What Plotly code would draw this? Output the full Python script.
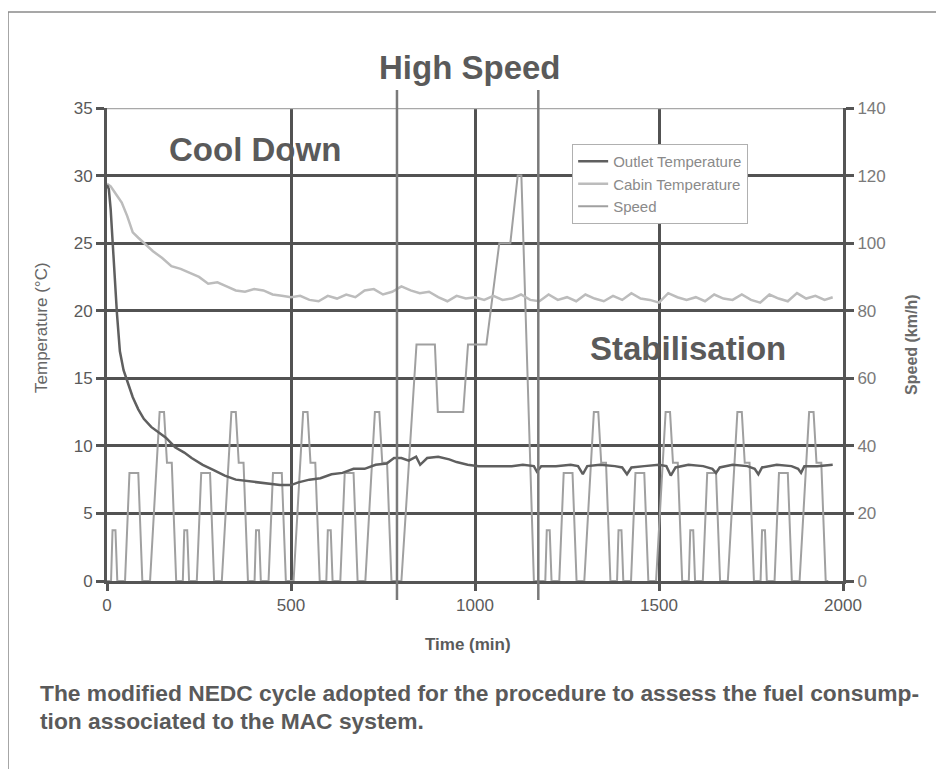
import plotly.graph_objects as go

# time axis is seconds really, the original figure labels it "min"
speed_t = [0, 11, 15, 23, 28, 49, 61, 85, 96, 117, 143, 155, 163, 176, 188,
           195, 206, 210, 218, 223, 244, 256, 280, 291, 312, 338, 350, 358, 371, 383,
           390, 401, 405, 413, 418, 439, 451, 475, 486, 507, 533, 545, 553, 566, 578,
           585, 596, 600, 608, 613, 634, 646, 670, 681, 702, 728, 740, 748, 761, 773,
           780, 800, 841, 891, 899, 968, 981, 1031, 1066, 1096, 1116, 1126, 1160,
           1180, 1191, 1195, 1203, 1208, 1229, 1241, 1265, 1276, 1297, 1323, 1335, 1343, 1356, 1368,
           1375, 1386, 1390, 1398, 1403, 1424, 1436, 1460, 1471, 1492, 1518, 1530, 1538, 1551, 1563,
           1570, 1581, 1585, 1593, 1598, 1619, 1631, 1655, 1666, 1687, 1713, 1725, 1733, 1746, 1758,
           1765, 1776, 1780, 1788, 1793, 1814, 1826, 1850, 1861, 1882, 1908, 1920, 1928, 1941, 1953,
           1960]
speed_v = [0, 0, 15, 15, 0, 0, 32, 32, 0, 0, 50, 50, 35, 35, 0,
           0, 0, 15, 15, 0, 0, 32, 32, 0, 0, 50, 50, 35, 35, 0,
           0, 0, 15, 15, 0, 0, 32, 32, 0, 0, 50, 50, 35, 35, 0,
           0, 0, 15, 15, 0, 0, 32, 32, 0, 0, 50, 50, 35, 35, 0,
           0, 0, 70, 70, 50, 50, 70, 70, 100, 100, 120, 120, 0,
           0, 0, 15, 15, 0, 0, 32, 32, 0, 0, 50, 50, 35, 35, 0,
           0, 0, 15, 15, 0, 0, 32, 32, 0, 0, 50, 50, 35, 35, 0,
           0, 0, 15, 15, 0, 0, 32, 32, 0, 0, 50, 50, 35, 35, 0,
           0, 0, 15, 15, 0, 0, 32, 32, 0, 0, 50, 50, 35, 35, 0,
           0]

cabin_t = [0, 10, 25, 40, 55, 70, 85, 100, 125, 150, 175, 200, 225, 250, 275, 300,
           325, 350, 375, 400, 425, 450, 475, 500, 525, 550, 575, 600, 625, 650, 675,
           700, 725, 750, 775, 800, 825, 850, 875, 900, 925, 950, 975, 1000, 1025,
           1050, 1075, 1100, 1125, 1150, 1175, 1200, 1225, 1250, 1275, 1300, 1325,
           1350, 1375, 1400, 1425, 1450, 1475, 1500, 1525, 1550, 1575, 1600, 1625,
           1650, 1675, 1700, 1725, 1750, 1775, 1800, 1825, 1850, 1875, 1900, 1925,
           1950, 1972]
cabin_T = [29.4, 29.2, 28.6, 28.0, 27.0, 25.8, 25.4, 25.0, 24.4, 23.9, 23.3, 23.1,
           22.8, 22.5, 22.0, 22.1, 21.8, 21.5, 21.4, 21.6, 21.5, 21.2, 21.1, 21.0,
           21.1, 20.8, 20.7, 21.1, 20.9, 21.2, 21.0, 21.5, 21.6, 21.2, 21.4, 21.8,
           21.5, 21.3, 21.4, 21.0, 20.7, 21.1, 20.9, 21.0, 20.8, 21.1, 20.8, 20.9,
           21.2, 20.8, 20.7, 21.2, 20.8, 21.0, 20.7, 21.2, 20.9, 20.7, 21.1, 20.8,
           21.3, 20.9, 20.8, 20.6, 21.3, 21.0, 20.8, 21.0, 20.7, 21.2, 20.9, 20.8,
           21.2, 20.8, 20.6, 21.2, 20.9, 20.7, 21.3, 20.9, 21.1, 20.8, 21.0]

outlet_t = [0, 5, 10, 16, 22, 27, 35, 45, 55, 70, 85, 100, 120, 140, 160, 185, 210,
            230, 260, 290, 320, 350, 380, 410, 440, 470, 500, 520, 550, 580, 610,
            640, 670, 700, 730, 760, 780, 800, 820, 840, 851, 870, 900, 930, 950,
            980, 1010, 1040, 1070, 1100, 1130, 1160, 1168, 1180, 1220, 1260, 1280,
            1293, 1305, 1340, 1380, 1400, 1413, 1425, 1460, 1500, 1520, 1532, 1545,
            1580, 1620, 1645, 1655, 1665, 1700, 1740, 1760, 1770, 1780, 1820, 1860,
            1878, 1886, 1895, 1930, 1972]
outlet_T = [29.3, 29.0, 27.5, 24.7, 22.0, 19.8, 17.0, 15.6, 14.8, 13.6, 12.7, 12.0,
            11.4, 11.0, 10.6, 9.9, 9.5, 9.1, 8.6, 8.2, 7.8, 7.5, 7.4, 7.3, 7.2, 7.1,
            7.1, 7.3, 7.5, 7.6, 7.9, 8.0, 8.3, 8.3, 8.6, 8.7, 9.1, 9.1, 8.9, 9.2, 8.6,
            9.1, 9.2, 9.0, 8.8, 8.6, 8.5, 8.5, 8.5, 8.5, 8.6, 8.5, 8.1, 8.5, 8.5, 8.6,
            8.5, 7.9, 8.5, 8.6, 8.5, 8.4, 7.9, 8.4, 8.5, 8.6, 8.5, 7.8, 8.4, 8.6, 8.5,
            8.3, 8.0, 8.4, 8.6, 8.5, 8.3, 7.9, 8.4, 8.6, 8.5, 8.3, 8.0, 8.5, 8.5, 8.6]

x_ticks = [0, 500, 1000, 1500, 2000]
temp_ticks = [0, 5, 10, 15, 20, 25, 30, 35]
speed_ticks = [0, 20, 40, 60, 80, 100, 120, 140]
phase_marks = [788, 1172]

dark = '#555555'
fig = go.Figure()

fig.add_trace(go.Scatter(x=speed_t, y=speed_v, name='Speed', mode='lines',
                         line=dict(color='#a0a0a0', width=2), yaxis='y', legendrank=3))
fig.add_trace(go.Scatter(x=cabin_t, y=cabin_T, name='Cabin Temperature', mode='lines',
                         line=dict(color='#bcbcbc', width=2.5), yaxis='y2', legendrank=2))
fig.add_trace(go.Scatter(x=outlet_t, y=outlet_T, name='Outlet Temperature', mode='lines',
                         line=dict(color='#5f5f5f', width=2.5), yaxis='y2', legendrank=1))

shapes = []
# light top border at 35 / 140
shapes.append(dict(type='line', xref='paper', yref='y', x0=0, x1=1, y0=140, y1=140,
                   line=dict(color='#a8a8a8', width=2.5), layer='above'))
for xm in phase_marks:
    shapes.append(dict(type='line', xref='x', yref='paper', x0=xm, x1=xm, y0=-0.04, y1=1.038,
                       line=dict(color='#7a7a7a', width=2.5), layer='above'))
# outer frame of the scanned figure
shapes.append(dict(type='rect', xref='paper', yref='paper', x0=-0.1345, x1=1.2, y0=-0.45, y1=1.203,
                   line=dict(color='#8a8a8a', width=1.5), layer='below'))

title_font = dict(size=33, color='#5a5a5a')
annotations = [
    dict(text='<b>Cool Down</b>', x=402, y=140 * 31.9 / 35, xref='x', yref='y', showarrow=False,
         yanchor='middle', font=title_font),
    dict(text='<b>Stabilisation</b>', x=1579, y=140 * 17.2 / 35, xref='x', yref='y', showarrow=False,
         yanchor='middle', font=title_font),
    dict(text='<b>High Speed</b>', x=986, y=1.085, xref='x', yref='paper', showarrow=False,
         yanchor='middle', font=title_font),
    dict(text='Temperature (°C)', x=-0.0883, y=0.535, xref='paper', yref='paper', showarrow=False,
         xanchor='center', yanchor='middle', textangle=-90, font=dict(size=17, color='#666666')),
    dict(text='<b>Speed (km/h)</b>', x=1.093, y=0.5, xref='paper', yref='paper', showarrow=False,
         xanchor='center', yanchor='middle', textangle=-90, font=dict(size=16, color='#6a6a6a')),
    dict(text='<b>Time (min)</b>', x=0.49, y=-0.135, xref='paper', yref='paper', showarrow=False,
         yanchor='middle', font=dict(size=17, color='#5a5a5a')),
    dict(text='<b>The modified NEDC cycle adopted for the procedure to assess the fuel consump-</b>',
         x=-0.094, y=-0.237, xref='paper', yref='paper', xanchor='left', yanchor='middle',
         showarrow=False, font=dict(size=22.8, color='#5a5a5a')),
    dict(text='<b>tion associated to the MAC system.</b>',
         x=-0.094, y=-0.296, xref='paper', yref='paper', xanchor='left', yanchor='middle',
         showarrow=False, font=dict(size=22.8, color='#5a5a5a')),
]

# page body adds 8px, so the figure is 8px smaller than the window
fig.update_layout(
    width=936, height=761,
    margin=dict(l=99, r=101, t=100, b=188),
    paper_bgcolor='white', plot_bgcolor='white',
    font=dict(family='Liberation Sans, Arial, sans-serif', color=dark),
    showlegend=True,
    legend=dict(x=0.632, y=0.924, xanchor='left', yanchor='top', bgcolor='white',
                bordercolor='#b0b0b0', borderwidth=1, itemwidth=30, tracegroupgap=0,
                font=dict(size=15, color='#8a8a8a')),
    xaxis=dict(range=[0, 2000], tickvals=x_ticks, showgrid=True, gridcolor='#525252', gridwidth=3,
               zeroline=False, showline=True, linecolor=dark, linewidth=3,
               ticks='outside', ticklen=7, tickwidth=3, tickcolor=dark,
               tickfont=dict(size=17, color='#5a5a5a'),
               tickprefix='<b>', ticksuffix='</b>'),
    yaxis=dict(range=[0, 140], tickvals=speed_ticks, side='right', showgrid=True,
               gridcolor='#525252', gridwidth=3, zeroline=False, showline=True,
               linecolor=dark, linewidth=3, ticks='outside', ticklen=8, tickwidth=3,
               tickcolor=dark, tickfont=dict(size=17, color='#7a7a7a')),
    yaxis2=dict(range=[0, 35], tickvals=temp_ticks, side='left', overlaying='y', showgrid=False,
                zeroline=False, showline=True, linecolor=dark, linewidth=3, ticks='outside',
                ticklen=8, tickwidth=3, tickcolor=dark,
                tickfont=dict(size=17, color='#5a5a5a'), tickprefix='<b>', ticksuffix='</b>'),
    shapes=shapes,
    annotations=annotations,
)

fig.write_html('out.html')
